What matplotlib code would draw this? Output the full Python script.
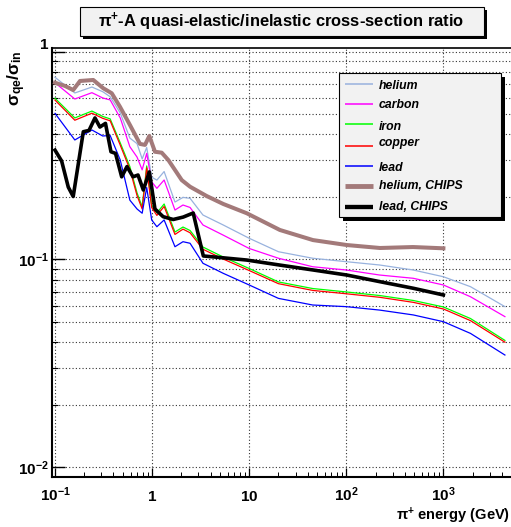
import matplotlib
matplotlib.use('Agg')
import matplotlib.pyplot as plt
from matplotlib.lines import Line2D
from matplotlib.patches import Rectangle
from matplotlib.ticker import FixedLocator, FixedFormatter, NullFormatter, LogLocator
from matplotlib import font_manager as fm

# ---------------- data ----------------
energy = [0.1, 0.16, 0.24, 0.31, 0.37, 0.47, 0.59, 0.70, 0.79, 0.88, 0.99, 1.12,
          1.33, 1.72, 2.08, 2.46, 3.34, 5.4, 10, 20, 45, 100, 220, 490, 1000, 1900, 4300]
helium = [0.753, 0.633, 0.676, 0.642, 0.607, 0.507, 0.384, 0.361, 0.305, 0.346, 0.249, 0.241,
          0.265, 0.189, 0.199, 0.197, 0.1637, 0.1466, 0.1265, 0.109, 0.1014, 0.0976, 0.0941,
          0.089, 0.0826, 0.074, 0.0593]
carbon = [0.709, 0.592, 0.635, 0.599, 0.586, 0.480, 0.349, 0.311, 0.270, 0.324, 0.2367, 0.220,
          0.2413, 0.173, 0.1829, 0.178, 0.1466, 0.131, 0.113, 0.1014, 0.0923, 0.089, 0.0842,
          0.0812, 0.0754, 0.0662, 0.0531]
iron = [0.597, 0.480, 0.518, 0.488, 0.475, 0.364, 0.280, 0.209, 0.1795, 0.282, 0.183, 0.1675,
        0.185, 0.1356, 0.1433, 0.1379, 0.1148, 0.1028, 0.0905, 0.078, 0.0725, 0.0698, 0.0671,
        0.0635, 0.0591, 0.052, 0.0408]
copper = [0.585, 0.468, 0.506, 0.478, 0.465, 0.355, 0.272, 0.203, 0.175, 0.276, 0.178, 0.163,
          0.180, 0.132, 0.140, 0.1345, 0.112, 0.1005, 0.0885, 0.0765, 0.071, 0.0684, 0.0658,
          0.0622, 0.0578, 0.0508, 0.0400]
lead = [0.505, 0.376, 0.420, 0.393, 0.395, 0.301, 0.193, 0.175, 0.167, 0.222, 0.155, 0.1438,
        0.155, 0.1152, 0.1218, 0.1197, 0.0959, 0.0858, 0.0754, 0.065, 0.0604, 0.0593, 0.0571,
        0.0541, 0.0502, 0.0441, 0.0347]

chips_he_energy = [0.1, 0.127, 0.154, 0.181, 0.248, 0.314, 0.384, 0.467, 0.591, 0.75, 0.845,
                   0.936, 1.07, 1.256, 1.47, 2.02, 2.46, 3.65, 5.41, 9.42, 20.7, 45.4, 101,
                   222, 486, 1000]
chips_he = [0.709, 0.684, 0.654, 0.723, 0.731, 0.667, 0.631, 0.543, 0.444, 0.360, 0.356,
            0.393, 0.330, 0.3266, 0.301, 0.241, 0.224, 0.202, 0.185, 0.167, 0.1387, 0.124,
            0.1174, 0.1136, 0.1148, 0.1132]

chips_pb_energy = [0.1, 0.117, 0.137, 0.154, 0.1957, 0.224, 0.258, 0.290, 0.331, 0.377, 0.420,
                   0.486, 0.551, 0.636, 0.716, 0.812, 0.936, 1.07, 1.30, 1.65, 2.09, 2.65,
                   3.37, 9.42, 20.7, 45.7, 101, 222, 490, 1000]
chips_pb = [0.336, 0.298, 0.223, 0.201, 0.412, 0.418, 0.480, 0.434, 0.452, 0.330, 0.324,
            0.250, 0.280, 0.250, 0.255, 0.216, 0.264, 0.175, 0.1607, 0.1558, 0.160, 0.1674,
            0.104, 0.0994, 0.094, 0.089, 0.0842, 0.0782, 0.0727, 0.0675]

series_labels = ['helium', 'carbon', 'iron', 'copper', 'lead', 'helium, CHIPS', 'lead, CHIPS']
x_tick_values = [0.1, 1, 10, 100, 1000]
x_tick_labels = [r'$\mathbf{10^{-1}}$', r'$\mathbf{1}$', r'$\mathbf{10}$',
                 r'$\mathbf{10^{2}}$', r'$\mathbf{10^{3}}$']
y_tick_values = [0.01, 0.1, 1]
y_tick_labels = [r'$\mathbf{10^{-2}}$', r'$\mathbf{10^{-1}}$', r'$\mathbf{1}$']
title_text = r'$\mathbf{\pi^{+}}$-A quasi-elastic/inelastic cross-section ratio'
xlabel_text = r'$\mathbf{\pi^{+}}$ energy (GeV)'
ylabel_text = r'$\mathbf{\sigma_{qe}/\sigma_{in}}$'

# ---------------- style ----------------
names = {f.name for f in fm.fontManager.ttflist}
FONT = 'Liberation Sans' if 'Liberation Sans' in names else 'DejaVu Sans'
plt.rcParams['font.family'] = [FONT, 'DejaVu Sans']
plt.rcParams['font.weight'] = 'bold'
plt.rcParams['mathtext.fontset'] = 'custom'
plt.rcParams['mathtext.rm'] = FONT + ':bold'
plt.rcParams['mathtext.bf'] = FONT + ':bold'
plt.rcParams['mathtext.it'] = FONT + ':bold:italic'
plt.rcParams['mathtext.sf'] = FONT + ':bold'

colors = ['#98b2de', '#ff00ff', '#00ff00', '#ff0000', '#0000ff', '#a37a7a', '#000000']
widths = [0.9, 0.9, 0.9, 0.9, 0.9, 2.9, 2.6]

W, H = 511, 527
def fx(px):
    return px / W
def fy(py):
    return 1 - py / H

fig = plt.figure(figsize=(W / 100, H / 100), dpi=100, facecolor='white')

ax_left, ax_right, ax_top, ax_bot = 51.7, 520.0, 47.7, 476.7
ax = fig.add_axes([fx(ax_left), fy(ax_bot), (ax_right - ax_left) / W, (ax_bot - ax_top) / H])
ax.set_xscale('log')
ax.set_yscale('log')
xpx_per_dec = 97.1
x0px = 55.0
ax.set_xlim(10 ** (-1 + (ax_left - x0px) / xpx_per_dec), 10 ** (-1 + (ax_right - x0px) / xpx_per_dec))
ypx_per_dec = 207.8
ax.set_ylim(10 ** (-(ax_bot - 51.7) / ypx_per_dec), 10 ** ((51.7 - ax_top) / ypx_per_dec))

series = [helium, carbon, iron, copper, lead]
for vals, c, lw, lab in zip(series, colors[:5], widths[:5], series_labels[:5]):
    ax.plot(energy, vals, color=c, lw=lw, label=lab, zorder=3)
ax.plot(chips_he_energy, chips_he, color=colors[5], lw=widths[5], label=series_labels[5], zorder=4)
ax.plot(chips_pb_energy, chips_pb, color=colors[6], lw=widths[6], label=series_labels[6], zorder=5)

# ticks
ax.xaxis.set_major_locator(FixedLocator(x_tick_values))
ax.xaxis.set_major_formatter(FixedFormatter(x_tick_labels))
ax.xaxis.set_minor_locator(LogLocator(base=10, subs=range(2, 10), numticks=20))
ax.xaxis.set_minor_formatter(NullFormatter())
ax.yaxis.set_major_locator(FixedLocator(y_tick_values))
ax.yaxis.set_major_formatter(FixedFormatter(y_tick_labels))
ax.yaxis.set_minor_locator(LogLocator(base=10, subs=range(2, 10), numticks=20))
ax.yaxis.set_minor_formatter(NullFormatter())

ax.tick_params(axis='x', which='major', direction='in', length=6.5, width=0.9, pad=17.8, labelsize=11)
ax.tick_params(axis='x', which='minor', direction='in', length=3.8, width=0.7)
ax.tick_params(axis='y', which='major', direction='in', length=9.5, width=1.0, pad=2.0, labelsize=11)
ax.tick_params(axis='y', which='minor', direction='in', length=4.5, width=0.8)
ax.tick_params(top=False, right=False, which='both')

for lab in ax.get_xticklabels():
    lab.set_va('baseline')
ylabs = ax.get_yticklabels()
ylabs[-1].set_va('bottom')

ax.grid(True, which='major', axis='x', color='#333333', lw=0.8, ls=(0, (1, 2)))
ax.grid(True, which='both', axis='y', color='#333333', lw=0.8, ls=(0, (1, 2)))
ax.set_axisbelow(True)

for s in ['left', 'bottom']:
    ax.spines[s].set_linewidth(1.5)
ax.spines['top'].set_linewidth(1.2)
ax.spines['right'].set_visible(False)

# axis titles
fig.text(fx(510), fy(520.5), xlabel_text, ha='right', va='baseline', fontsize=10.5, fontweight='bold')
fig.text(fx(17), fy(50), ylabel_text, ha='center', va='top', rotation=90, fontsize=12.5, fontweight='bold')

# title box with shadow
tb_l, tb_r, tb_t, tb_b = 79.5, 483.5, 6.7, 36.3
sh = 3.0
fig.add_artist(Rectangle((fx(tb_l + sh), fy(tb_b + sh)), (tb_r - tb_l) / W, (tb_b - tb_t) / H,
                         transform=fig.transFigure, facecolor='black', edgecolor='black', lw=0, zorder=1))
fig.add_artist(Rectangle((fx(tb_l), fy(tb_b)), (tb_r - tb_l) / W, (tb_b - tb_t) / H,
                         transform=fig.transFigure, facecolor='#f2f2f2', edgecolor='black', lw=0.8, zorder=2))
fig.text(fx(281), fy(22), title_text, ha='center', va='center', fontsize=11.9, fontweight='bold', zorder=3)

# legend box with shadow
lg_l, lg_r, lg_t, lg_b = 339, 500.5, 73, 217
sh = 4.0
fig.add_artist(Rectangle((fx(lg_l + sh), fy(lg_b + sh)), (lg_r - lg_l) / W, (lg_b - lg_t) / H,
                         transform=fig.transFigure, facecolor='black', edgecolor='black', lw=0, zorder=6))
fig.add_artist(Rectangle((fx(lg_l), fy(lg_b)), (lg_r - lg_l) / W, (lg_b - lg_t) / H,
                         transform=fig.transFigure, facecolor='#f2f2f2', edgecolor='black', lw=0.8, zorder=7))
line_y = [84, 103.7, 124, 146, 166, 186, 206.7]
text_y = [86, 105.5, 126.5, 143, 168, 186, 206.5]
for lab, c, lw, ly, ty in zip(series_labels, colors, widths, line_y, text_y):
    fig.add_artist(Line2D([fx(345), fx(373)], [fy(ly), fy(ly)], transform=fig.transFigure,
                          color=c, lw=lw * 1.2 if lw > 1 else 1.1, zorder=8, solid_capstyle='butt'))
    fig.text(fx(379), fy(ty), lab, ha='left', va='center', fontsize=8.8, fontweight='bold',
             fontstyle='italic', zorder=9)

fig.savefig('out.png', dpi=100, facecolor='white')
